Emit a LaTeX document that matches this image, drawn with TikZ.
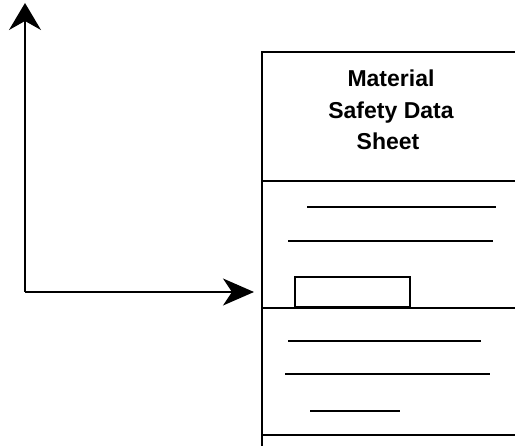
\documentclass[tikz,border=0pt]{standalone}
\usepackage{fontspec}
\setmainfont{Liberation Sans}
\usetikzlibrary{arrows.meta}
\begin{document}
\begin{tikzpicture}[x=1pt,y=-1pt,
  edge/.style={line width=1.8pt},
  thin line/.style={line width=1.4pt},
  conn/.style={line width=1.6pt},
  label/.style={font=\fontsize{23}{31}\selectfont\bfseries, inner sep=0pt, anchor=base}]
\useasboundingbox (0,0) rectangle (515,446);
% sheet outline
\coordinate (tl) at (262,52);
\coordinate (tr) at (515,52);
\coordinate (bl) at (262,446);
\draw[edge] (tr) -- (tl) -- (bl);
\draw[edge] (262,181) -- (515,181);
\draw[edge] (262,308) -- (515,308);
\draw[edge] (262,435) -- (515,435);
% title
\node[label] (title1) at (391,87) {Material};
\node[label] (title2) at (391,119) {Safety Data};
\node[label] (title3) at (388,150) {Sheet};
% text lines
\draw[thin line] (307,207) -- (496,207);
\draw[thin line] (288,241) -- (493,241);
\draw[thin line] (288,341) -- (481,341);
\draw[thin line] (285,374) -- (490,374);
\draw[thin line] (310,411) -- (400,411);
% highlighted field
\node[draw, line width=1.6pt, minimum width=115pt, minimum height=30pt, inner sep=0pt, anchor=south west] (field) at (294,308) {};
% connector
\coordinate (top) at (25,3);
\coordinate (corner) at (25,292);
\coordinate (tip) at (254,292);
\draw[conn, -{Stealth[length=31pt,width=27pt,inset=9pt]}] (corner) -- (tip);
\draw[conn, -{Stealth[length=27pt,width=32pt,inset=9pt]}] (corner) -- (top);
\end{tikzpicture}
\end{document}
